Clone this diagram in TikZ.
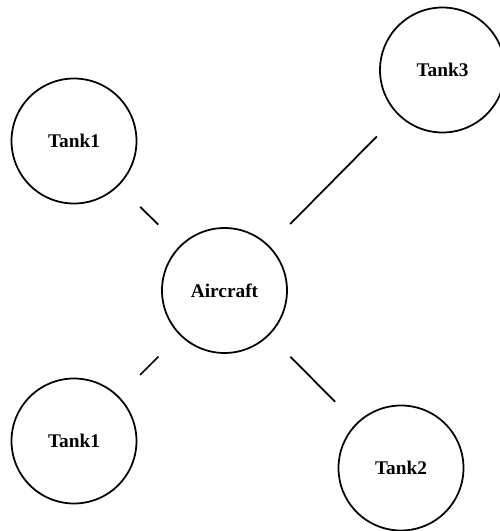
\documentclass[tikz,border=0pt]{standalone}
\usepackage{fontspec}
\setmainfont{Liberation Serif}
\usetikzlibrary{arrows.meta}

\begin{document}
\begin{tikzpicture}[line width=1pt,
    unit/.style={circle, draw, minimum size=2.5cm, inner sep=0pt,
                 font=\fontsize{11}{13}\selectfont\bfseries},
    link/.style={shorten <=0.6cm, shorten >=0.6cm}]
    \useasboundingbox (0,0) rectangle (10,-10.62);

    \node[unit] (Air)  at (4.49,-5.81) {Aircraft};
    \node[unit] (T1a)  at (1.48,-2.82) {Tank1};
    \node[unit] (T3)   at (8.85,-1.40) {Tank3};
    \node[unit] (T1b)  at (1.48,-8.82) {Tank1};
    \node[unit] (T2)   at (8.02,-9.36) {Tank2};

    \path (T1a) edge [link] (Air)
          (T3)  edge [link] (Air)
          (Air) edge [link] (T1b)
          (Air) edge [link] (T2);
\end{tikzpicture}
\end{document}
